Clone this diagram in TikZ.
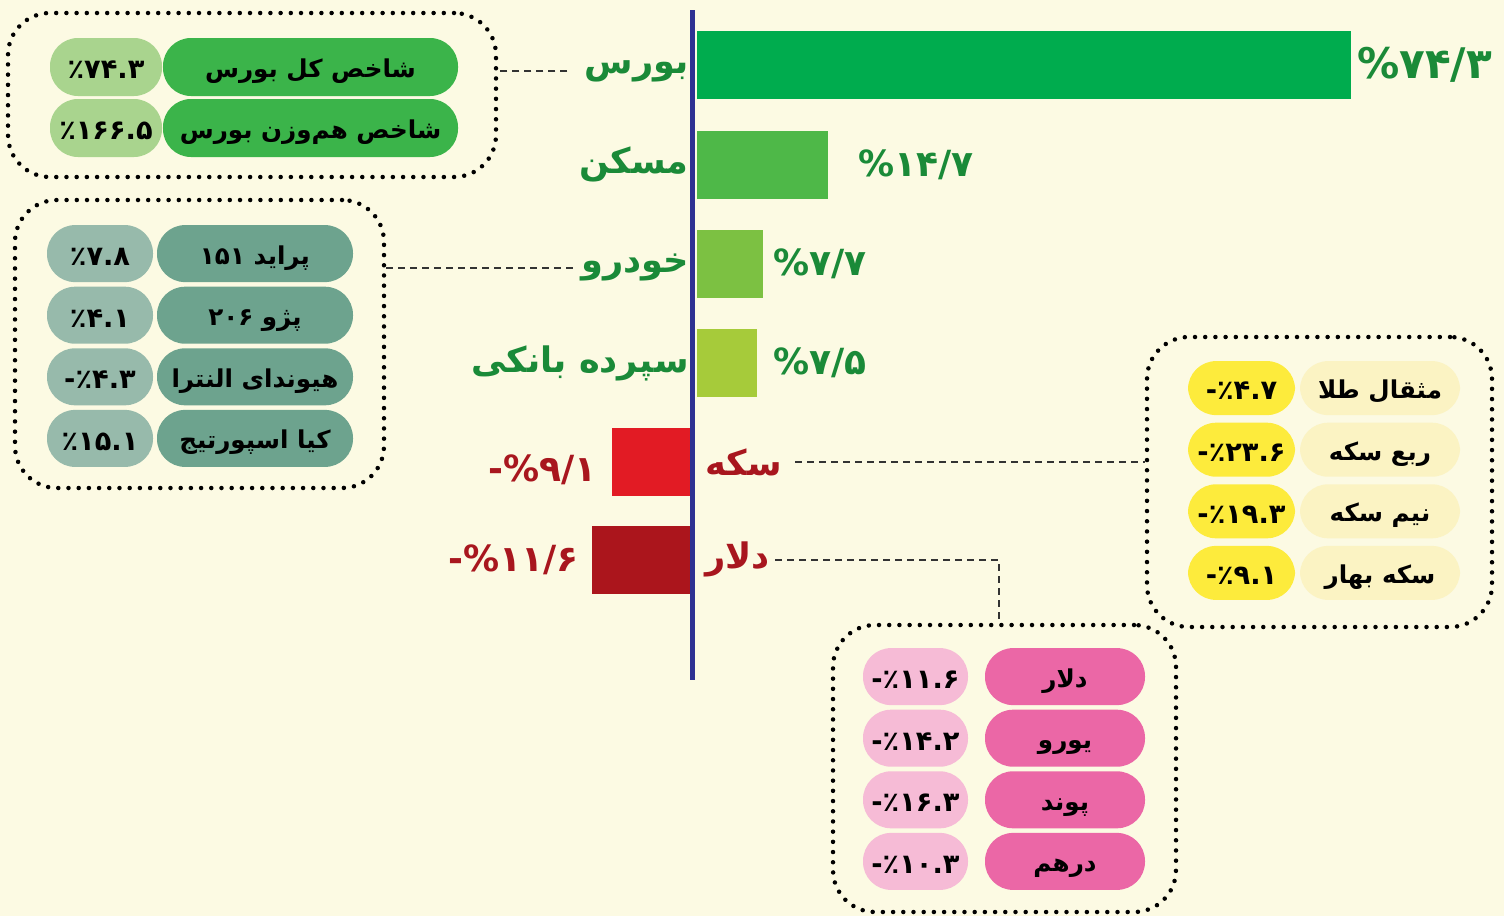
\documentclass[tikz,border=0pt]{standalone}
\usepackage{fontspec}
\usetikzlibrary{positioning}
\TeXXeTstate=1
\newfontfamily\fafont[Script=Arabic]{DejaVu Sans}
\newfontfamily\numfont{DejaVu Sans}
\newcommand{\fa}[1]{{\fafont\bfseries\beginR #1\endR}}
\newcommand{\num}[1]{{\numfont\bfseries #1}}

\definecolor{paper}{HTML}{FCFAE3}
\definecolor{axisblue}{HTML}{2E3192}
\definecolor{gA}{HTML}{00AC4E}
\definecolor{gB}{HTML}{4EB848}
\definecolor{gC}{HTML}{7CC142}
\definecolor{gD}{HTML}{A6CB3A}
\definecolor{rA}{HTML}{E21B24}
\definecolor{rB}{HTML}{AB151C}
\definecolor{gtext}{HTML}{1A8A38}
\definecolor{rtext}{HTML}{A8161E}
\definecolor{bourseName}{HTML}{3BB44A}
\definecolor{bourseVal}{HTML}{A9D48E}
\definecolor{khodroName}{HTML}{6DA38E}
\definecolor{khodroVal}{HTML}{97BAAB}
\definecolor{sekkeName}{HTML}{FBF3C3}
\definecolor{sekkeVal}{HTML}{FDEB3C}
\definecolor{dollarName}{HTML}{EB67A6}
\definecolor{dollarVal}{HTML}{F6BBD6}

\begin{document}
\begin{tikzpicture}[x=0.02cm, y=-0.02cm]

% GLOBAL SETTINGS
\newlength{\px}
\setlength{\px}{0.02cm}
\tikzset{
  bar/.style={inner sep=0pt, minimum height=68\px},
  barname/.style={inner sep=0pt, font=\fontsize{20}{22}\selectfont},
  barvalue/.style={inner sep=0pt, font=\fontsize{20.5}{23}\selectfont},
  pill/.style={inner sep=0pt, rounded corners=28\px, minimum height=57\px, text height=12pt, text depth=0pt, font=\fontsize{14}{16}\selectfont},
  pillvalue/.style={pill, text height=13.5pt, font=\fontsize{15.5}{17}\selectfont},
  groupbox/.style={draw, line width=4.5\px, line cap=round, dash pattern=on 0pt off 10.2\px, rounded corners=42\px},
  link/.style={draw=black!80, line width=2\px, dash pattern=on 7\px off 5\px}
}

% BACKGROUND
\fill[paper] (0,0) rectangle (1504,916);
\useasboundingbox (0,0) rectangle (1504,916);

% AXIS
\coordinate (axtop) at (692.7,10);
\coordinate (axbot) at (692.7,680);

% BARS
\foreach \name/\col/\w/\y in {bourse/gA/654/65, maskan/gB/131/164.5, khodro/gC/66/263.5, seporde/gD/60/363}
  \node[bar, fill=\col, minimum width=\w\px, anchor=west] (\name) at (697,\y) {};
\foreach \name/\col/\w/\y in {sekke/rA/79/462, dollar/rB/99/559.5}
  \node[bar, fill=\col, minimum width=\w\px, anchor=east] (\name) at (691,\y) {};
\draw[axisblue, line width=4.5\px] (axtop) -- (axbot);

% NAMES & VALUES
\node[barname, gtext, left=8\px of bourse, yshift=-6\px] (bourseL) {\fa{بورس}};
\node[barname, gtext, left=8\px of maskan] (maskanL) {\fa{مسکن}};
\node[barname, gtext, left=8\px of khodro, yshift=-4\px] (khodroL) {\fa{خودرو}};
\node[barname, gtext, left=8\px of seporde] (sepordeL) {\fa{سپرده بانکی}};
\node[barname, rtext, right=14\px of sekke] (sekkeL) {\fa{سکه}};
\node[barname, rtext, right=14\px of dollar] (dollarL) {\fa{دلار}};
\node[barvalue, gtext, right=5\px of bourse, font=\fontsize{24}{26}\selectfont] (bourseV) {\num{\%۷۴/۳}};
\node[barvalue, gtext, right=29\px of maskan] (maskanV) {\num{\%۱۴/۷}};
\node[barvalue, gtext, right=9\px of khodro] (khodroV) {\num{\%۷/۷}};
\node[barvalue, gtext, right=15\px of seporde] (sepordeV) {\num{\%۷/۵}};
\node[barvalue, rtext, left=14\px of sekke, yshift=-8\px] (sekkeV) {\num{-\%۹/۱}};
\node[barvalue, rtext, left=12\px of dollar] (dollarV) {\num{-\%۱۱/۶}};

% GROUPS
\node[groupbox, minimum width=488\px, minimum height=164\px] (bourseBox) at (252,95) {};
\foreach \lab/\val [count=\i] in {شاخص کل بورس/٪۷۴.۳, شاخص هم‌وزن بورس/٪۱۶۶.۵} {
  \node[pill, fill=bourseName, minimum width=295\px, minimum height=58\px] (bourseN\i) at (310.5,{6+61*\i}) {\fa{\lab}};
  \node[pillvalue, fill=bourseVal, minimum width=112\px, minimum height=58\px] (bourseP\i) at (106,{6+61*\i}) {\num{\val}};
}
\node[groupbox, minimum width=369\px, minimum height=288\px] (khodroBox) at (199.5,344) {};
\foreach \lab/\val [count=\i] in {پراید ۱۵۱/٪۷.۸, پژو ۲۰۶/٪۴.۱, هیوندای النترا/-٪۴.۳, کیا اسپورتیج/٪۱۵.۱} {
  \node[pill, fill=khodroName, minimum width=196\px] (khodroN\i) at (255,{192+61.6*\i}) {\fa{\lab}};
  \node[pillvalue, fill=khodroVal, minimum width=106\px] (khodroP\i) at (100,{192+61.6*\i}) {\num{\val}};
}
\node[groupbox, minimum width=345\px, minimum height=290\px] (sekkeBox) at (1319.5,482) {};
\foreach \lab/\val [count=\i] in {مثقال طلا/-٪۴.۷, ربع سکه/-٪۲۳.۶, نیم سکه/-٪۱۹.۳, سکه بهار/-٪۹.۱} {
  \node[pill, fill=sekkeName, minimum width=160\px, minimum height=54\px] (sekkeN\i) at (1380,{326.5+61.6*\i}) {\fa{\lab}};
  \node[pillvalue, fill=sekkeVal, minimum width=107\px, minimum height=54\px] (sekkeP\i) at (1241.5,{326.5+61.6*\i}) {\num{\val}};
}
\node[groupbox, minimum width=343\px, minimum height=287\px] (dollarBox) at (1004.5,768.5) {};
\foreach \lab/\val [count=\i] in {دلار/-٪۱۱.۶, یورو/-٪۱۴.۲, پوند/-٪۱۶.۳, درهم/-٪۱۰.۳} {
  \node[pill, fill=dollarName, minimum width=160\px] (dollarN\i) at (1065,{615+61.6*\i}) {\fa{\lab}};
  \node[pillvalue, fill=dollarVal, minimum width=105\px] (dollarP\i) at (915.5,{615+61.6*\i}) {\num{\val}};
}

% LINKS
\draw[link, shorten <=17\px] (bourseL.west) -- (bourseL.west -| bourseBox.east);
\draw[link, shorten <=8\px] (khodroL.west) -- (khodroL.west -| khodroBox.east);
\draw[link, shorten <=13\px] (sekkeL.east) -- (sekkeL.east -| sekkeBox.west);
\draw[link, shorten <=5\px] (dollarL.east) -| ([xshift=-6\px]dollarBox.north);

\end{tikzpicture}
\end{document}
